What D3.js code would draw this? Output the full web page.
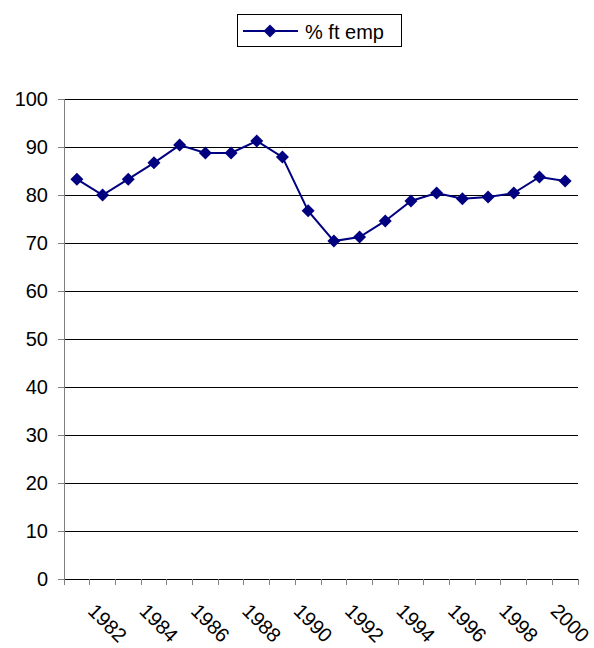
<!DOCTYPE html>
<html>
<head>
<meta charset="utf-8">
<script src="https://cdn.jsdelivr.net/npm/d3@7"></script>
<style>
  html, body { margin: 0; padding: 0; background: #fff; }
  svg { display: block; font-family: "Liberation Sans", Arial, sans-serif; }
</style>
</head>
<body>
<svg id="chart" width="594" height="648"></svg>
<script>
// Share of full-time employment by year
const years = [1981, 1982, 1983, 1984, 1985, 1986, 1987, 1988, 1989, 1990,
               1991, 1992, 1993, 1994, 1995, 1996, 1997, 1998, 1999, 2000];
const ftEmp = [83.3, 80.0, 83.3, 86.7, 90.4, 88.75, 88.75, 91.25, 87.9, 76.7,
               70.4, 71.25, 74.6, 78.75, 80.4, 79.2, 79.6, 80.4, 83.75, 82.9];
const yTicks = [0, 10, 20, 30, 40, 50, 60, 70, 80, 90, 100];
const seriesName = "% ft emp";

const svg = d3.select("#chart");
const plot = { left: 64, right: 578, top: 99, bottom: 579 };
const navy = "#000080";
const fontSize = 20;

const x = d3.scaleBand().domain(years).range([plot.left, plot.right]);
const y = d3.scaleLinear().domain([0, 100]).range([plot.bottom, plot.top]);

// horizontal gridlines
svg.append("g")
  .selectAll("line")
  .data(yTicks.filter(d => d > 0))
  .join("line")
  .attr("x1", plot.left).attr("x2", plot.right)
  .attr("y1", d => y(d)).attr("y2", d => y(d))
  .attr("stroke", "#000").attr("stroke-width", 1)
  .attr("shape-rendering", "crispEdges");

// y axis
const yAxis = svg.append("g")
  .attr("transform", `translate(${plot.left},0)`)
  .call(d3.axisLeft(y).tickValues(yTicks).tickSize(6).tickPadding(10).tickFormat(d3.format("d")));
yAxis.select(".domain").attr("stroke", "#808080").attr("shape-rendering", "crispEdges");
yAxis.selectAll(".tick line").attr("stroke", "#808080").attr("shape-rendering", "crispEdges");
yAxis.selectAll(".tick text")
  .attr("font-size", fontSize).attr("fill", "#000")
  .attr("font-family", "Liberation Sans, Arial, sans-serif");

// x axis: ticks on category boundaries
const boundaries = years.map(d => x(d)).concat([x(years[years.length - 1]) + x.bandwidth()]);
svg.append("line")
  .attr("x1", plot.left).attr("x2", plot.right)
  .attr("y1", plot.bottom).attr("y2", plot.bottom)
  .attr("stroke", "#000").attr("shape-rendering", "crispEdges");
svg.append("g")
  .selectAll("line")
  .data(boundaries)
  .join("line")
  .attr("x1", d => d).attr("x2", d => d)
  .attr("y1", plot.bottom).attr("y2", plot.bottom + 6)
  .attr("stroke", "#808080").attr("shape-rendering", "crispEdges");

// rotated year labels on even years
svg.append("g")
  .selectAll("text")
  .data(years.filter(d => d % 2 === 0))
  .join("text")
  .attr("transform", d => `translate(${x(d) + x.bandwidth() / 2 + 5},${plot.bottom + 44}) rotate(45)`)
  .attr("text-anchor", "middle")
  .attr("dominant-baseline", "central")
  .attr("font-size", fontSize)
  .attr("fill", "#000")
  .text(d => d);

// data line
const line = d3.line()
  .x((d, i) => x(years[i]) + x.bandwidth() / 2)
  .y(d => y(d));
svg.append("path")
  .datum(ftEmp)
  .attr("d", line)
  .attr("fill", "none")
  .attr("stroke", navy)
  .attr("stroke-width", 2);

const diamond = "M0,-6.5L6.5,0L0,6.5L-6.5,0Z";
svg.append("g")
  .selectAll("path")
  .data(ftEmp)
  .join("path")
  .attr("d", diamond)
  .attr("transform", (d, i) => `translate(${x(years[i]) + x.bandwidth() / 2},${y(d)})`)
  .attr("fill", navy);

// legend
const legend = svg.append("g");
legend.append("rect")
  .attr("x", 237.5).attr("y", 14.5).attr("width", 164).attr("height", 32)
  .attr("fill", "#fff").attr("stroke", "#000").attr("stroke-width", 1);
legend.append("line")
  .attr("x1", 243).attr("x2", 298).attr("y1", 31).attr("y2", 31)
  .attr("stroke", navy).attr("stroke-width", 2);
legend.append("path")
  .attr("d", diamond)
  .attr("transform", "translate(270,31)")
  .attr("fill", navy);
legend.append("text")
  .attr("x", 305).attr("y", 32)
  .attr("dominant-baseline", "central")
  .attr("font-size", fontSize)
  .attr("fill", "#000")
  .text(seriesName);
</script>
</body>
</html>
